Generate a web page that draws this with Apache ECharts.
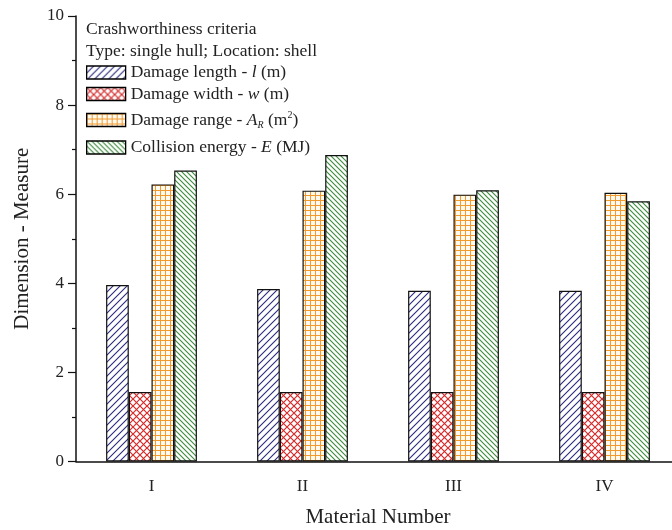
<!DOCTYPE html>
<html>
<head>
<meta charset="utf-8">
<script src="https://cdn.jsdelivr.net/npm/echarts@6/dist/echarts.min.js"></script>
<style>
  html, body { margin: 0; padding: 0; background: #fff; }
  #chart { width: 672px; height: 530px; }
</style>
</head>
<body>
<div id="chart"></div>
<script>
// Materials on the x axis
const materials = ['I', 'II', 'III', 'IV'];

// Crashworthiness criteria per material
const damageLength = [3.96, 3.87, 3.83, 3.83];   // l (m)
const damageWidth = [1.56, 1.56, 1.56, 1.56];    // w (m)
const damageRange = [6.22, 6.08, 5.99, 6.03];    // A_R (m^2)
const collisionEnergy = [6.53, 6.88, 6.09, 5.84]; // E (MJ)

// Value axis ticks
const yMin = 0, yMax = 10, yStep = 2;

const FONT = '"Liberation Serif", "DejaVu Serif", serif';
const INK = '#222';
const LEG_FONT = 17.5;

// Small tiled canvases used as hatched fills
function makeTile(size, draw, bg) {
  const c = document.createElement('canvas');
  c.width = size; c.height = size;
  const ctx = c.getContext('2d');
  ctx.fillStyle = bg || '#fff';
  ctx.fillRect(0, 0, size, size);
  draw(ctx, size);
  return { image: c, repeat: 'repeat' };
}
function slashTile(size, color, width) {
  return makeTile(size, (ctx, s) => {
    ctx.strokeStyle = color; ctx.lineWidth = width;
    ctx.beginPath();
    ctx.moveTo(-1, s + 1); ctx.lineTo(s + 1, -1);
    ctx.moveTo(-1, 1); ctx.lineTo(1, -1);
    ctx.moveTo(s - 1, s + 1); ctx.lineTo(s + 1, s - 1);
    ctx.stroke();
  });
}
function backslashTile(size, color, width) {
  return makeTile(size, (ctx, s) => {
    ctx.strokeStyle = color; ctx.lineWidth = width;
    ctx.beginPath();
    ctx.moveTo(-1, -1); ctx.lineTo(s + 1, s + 1);
    ctx.moveTo(s - 1, -1); ctx.lineTo(s + 1, 1);
    ctx.moveTo(-1, s - 1); ctx.lineTo(1, s + 1);
    ctx.stroke();
  });
}
function crossTile(size, color, width) {
  return makeTile(size, (ctx, s) => {
    ctx.strokeStyle = color; ctx.lineWidth = width;
    ctx.beginPath();
    ctx.moveTo(-1, -1); ctx.lineTo(s + 1, s + 1);
    ctx.moveTo(-1, s + 1); ctx.lineTo(s + 1, -1);
    ctx.stroke();
  });
}
function gridTile(size, color, width) {
  return makeTile(size, (ctx, s) => {
    ctx.strokeStyle = color; ctx.lineWidth = width;
    ctx.beginPath();
    ctx.moveTo(0, 0.5); ctx.lineTo(s, 0.5);
    ctx.moveTo(0.5, 0); ctx.lineTo(0.5, s);
    ctx.stroke();
  }, '#fffaf0');
}

const fillLength = slashTile(7, '#2a2a80', 1.1);
const fillWidth = crossTile(7, '#d52b2b', 1.2);
const fillRange = gridTile(5, '#f29a2e', 1);
const fillEnergy = backslashTile(5, '#3b8a3b', 1.1);

const names = ['Damage length', 'Damage width', 'Damage range', 'Collision energy'];
const labels = {
  'Damage length': '{n|Damage length - }{i|l}{n| (m)}',
  'Damage width': '{n|Damage width - }{i|w}{n| (m)}',
  'Damage range': '{n|Damage range - }{i|A}{sub|R}{n| (m}{sup|2}{n|)}',
  'Collision energy': '{n|Collision energy - }{i|E}{n| (MJ)}'
};
const rich = {
  n: { fontFamily: FONT, fontSize: LEG_FONT, color: INK, lineHeight: 20 },
  i: { fontFamily: FONT, fontSize: LEG_FONT, color: INK, fontStyle: 'italic', lineHeight: 20 },
  sub: { fontFamily: FONT, fontSize: 10, color: INK, fontStyle: 'italic', verticalAlign: 'bottom', lineHeight: 10 },
  sup: { fontFamily: FONT, fontSize: 10, color: INK, verticalAlign: 'top', lineHeight: 10 }
};
// Row centres of the four legend entries
const legendCentres = [73.5, 95, 120, 148.5];
const legends = names.map((nm, k) => ({
  data: [nm],
  left: 86,
  top: legendCentres[k] - 10,
  padding: 0,
  icon: 'rect',
  itemWidth: 39,
  itemHeight: 13,
  selectedMode: false,
  itemStyle: { borderColor: '#000', borderWidth: 1.3 },
  formatter: (n) => labels[n],
  textStyle: { rich: rich, fontFamily: FONT, fontSize: LEG_FONT, color: INK }
}));

function barSeries(name, values, fill) {
  return {
    name: name,
    type: 'bar',
    data: values,
    barWidth: 22.7,
    barGap: '0%',
    itemStyle: { color: fill, borderColor: '#111', borderWidth: 1.2 }
  };
}

const chart = echarts.init(document.getElementById('chart'), null, { renderer: 'canvas' });
chart.setOption({
  animation: false,
  backgroundColor: '#fff',
  textStyle: { fontFamily: FONT },
  title: [
    { text: 'Crashworthiness criteria', left: 86, top: 20, padding: 0,
      textStyle: { fontFamily: FONT, fontSize: LEG_FONT, fontWeight: 'normal', color: INK } },
    { text: 'Type: single hull; Location: shell', left: 86, top: 42, padding: 0,
      textStyle: { fontFamily: FONT, fontSize: LEG_FONT, fontWeight: 'normal', color: INK } }
  ],
  legend: legends,
  grid: { left: 76, top: 16, width: 604, bottom: 68.5, containLabel: false, outerBoundsMode: 'none' },
  xAxis: [
    {
      type: 'category',
      data: materials,
      name: 'Material Number',
      nameLocation: 'middle',
      nameGap: 45,
      nameTextStyle: { fontFamily: FONT, fontSize: 21, color: INK },
      axisLine: { lineStyle: { color: '#111', width: 1.5 } },
      axisTick: { alignWithLabel: true, length: 8, lineStyle: { color: '#111', width: 1.2 } },
      axisLabel: { fontFamily: FONT, fontSize: 17, color: INK, margin: 17 },
      splitLine: { show: false }
    },
    {
      type: 'category',
      data: materials,
      position: 'bottom',
      axisLine: { show: false },
      axisTick: { length: 4, lineStyle: { color: '#111', width: 1.2 } },
      axisLabel: { show: false },
      splitLine: { show: false }
    }
  ],
  yAxis: {
    type: 'value',
    min: yMin,
    max: yMax,
    interval: yStep,
    name: 'Dimension - Measure',
    nameLocation: 'middle',
    nameGap: 43,
    nameTextStyle: { fontFamily: FONT, fontSize: 21, color: INK },
    axisLine: { show: true, lineStyle: { color: '#111', width: 1.5 } },
    axisTick: { show: true, length: 8, lineStyle: { color: '#111', width: 1.2 } },
    minorTick: { show: true, splitNumber: 2, length: 4, lineStyle: { color: '#111', width: 1.2 } },
    axisLabel: { fontFamily: FONT, fontSize: 17, color: INK, margin: 12 },
    splitLine: { show: false }
  },
  series: [
    barSeries(names[0], damageLength, fillLength),
    barSeries(names[1], damageWidth, fillWidth),
    barSeries(names[2], damageRange, fillRange),
    barSeries(names[3], collisionEnergy, fillEnergy)
  ]
});
</script>
</body>
</html>
